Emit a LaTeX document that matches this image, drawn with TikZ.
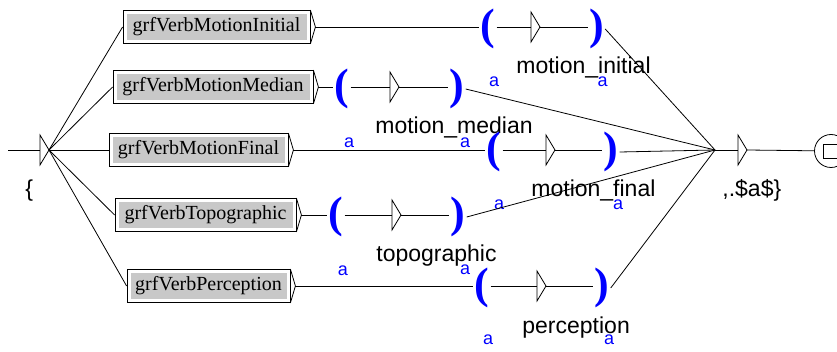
\documentclass[tikz,border=0pt]{standalone}
\usepackage{fontspec}
\setmainfont{Liberation Sans}
\newfontfamily\boxfont{Liberation Serif}
\usetikzlibrary{calc}

\definecolor{boxgray}{RGB}{200,200,200}
\definecolor{outblue}{RGB}{0,0,255}

\tikzset{
	subgraph/.style={draw, fill=white, inner sep=0pt, minimum height=33,
		font=\boxfont\fontsize{20}{20}\selectfont,
		path picture={\fill[boxgray]
			($(path picture bounding box.south west)+(3.5pt,3.5pt)$) rectangle
			($(path picture bounding box.north east)+(-3.5pt,-3.5pt)$);}},
	paren/.style={inner sep=1pt, text=outblue, font=\boxfont\bfseries\fontsize{44}{44}\selectfont},
	lbl/.style={anchor=base west, inner sep=0pt, font=\fontsize{23}{23}\selectfont},
	outa/.style={inner sep=0pt, text=outblue, font=\fontsize{18}{18}\selectfont},
}

% state arrow: name, x, y
\newcommand\statearrow[3]{%
	\draw (#2,#3-15) -- (#2,#3+15) -- (#2+9,#3) -- cycle;
	\coordinate (#1) at (#2,#3);
	\coordinate (#1tip) at (#2+9,#3);}

\begin{document}
\begin{tikzpicture}[x=1pt, y=-1pt, line width=0.8pt]
	\useasboundingbox (0,0) rectangle (837,352);

	% start
	\coordinate (entry) at (8,150);
	\statearrow{start}{40}{150}
	\draw (entry) -- (start);
	\node[lbl] (open) at ($(start)+(-15,47)$) {\{};

	% boxes
	\node[subgraph, minimum width=187] (initial) at (216.5,27) {grfVerbMotionInitial};
	\node[subgraph, minimum width=200] (median) at (213,87) {grfVerbMotionMedian};
	\node[subgraph, minimum width=179] (final) at (198.5,150) {grfVerbMotionFinal};
	\node[subgraph, minimum width=181] (topo) at (205.5,215) {grfVerbTopographic};
	\node[subgraph, minimum width=163] (percep) at (208.5,286) {grfVerbPerception};
	\foreach \b in {initial,median,final,topo,percep}{
		\draw (\b.north east) -- ($(\b.east)+(5,0)$) -- (\b.south east);
		\draw (starttip) -- (\b.west);
	}

	% motion_initial
	\node[paren] (o1) at (488,29) {(};
	\statearrow{t1}{531}{27}
	\node[paren] (c1) at (596.5,29) {)};
	\draw ($(initial.east)+(5,0)$) -- (o1.west |- t1);
	\draw (o1.east |- t1) -- (t1);
	\draw (t1tip) -- (c1.west |- t1);
	\node[lbl] (l1) at ($(t1)+(-15,47)$) {motion\_initial};
	\node[outa] (a1l) at ($(o1)+(6,53)$) {a};
	\node[outa] (a1r) at ($(c1)+(6,53)$) {a};

	% motion_median
	\node[paren] (o2) at (342,89) {(};
	\statearrow{t2}{390}{87}
	\node[paren] (c2) at (457,89) {)};
	\draw ($(median.east)+(5,0)$) -- (o2.west |- t2);
	\draw (o2.east |- t2) -- (t2);
	\draw (t2tip) -- (c2.west |- t2);
	\node[lbl] (l2) at ($(t2)+(-15,47)$) {motion\_median};
	\node[outa] (a2l) at ($(o2)+(7,54)$) {a};
	\node[outa] (a2r) at ($(c2)+(8,54)$) {a};

	% motion_final
	\node[paren] (o3) at (494,152) {(};
	\statearrow{t3}{546}{150}
	\node[paren] (c3) at (611,152) {)};
	\draw ($(final.east)+(5,0)$) -- (o3.west |- t3);
	\draw (o3.east |- t3) -- (t3);
	\draw (t3tip) -- (c3.west |- t3);
	\node[lbl] (l3) at ($(t3)+(-15,47)$) {motion\_final};
	\node[outa] (a3l) at ($(o3)+(5,53)$) {a};
	\node[outa] (a3r) at ($(c3)+(7,53)$) {a};

	% topographic
	\node[paren] (o4) at (336,217) {(};
	\statearrow{t4}{392}{215}
	\node[paren] (c4) at (458,217) {)};
	\draw ($(topo.east)+(5,0)$) -- (o4.west |- t4);
	\draw (o4.east |- t4) -- (t4);
	\draw (t4tip) -- (c4.west |- t4);
	\node[lbl] (l4) at ($(t4)+(-16,47)$) {topographic};
	\node[outa] (a4l) at ($(o4)+(7,54)$) {a};
	\node[outa] (a4r) at ($(c4)+(7,53)$) {a};

	% perception
	\node[paren] (o5) at (482,288) {(};
	\statearrow{t5}{537}{286}
	\node[paren] (c5) at (602,288) {)};
	\draw ($(percep.east)+(5,0)$) -- (o5.west |- t5);
	\draw (o5.east |- t5) -- (t5);
	\draw (t5tip) -- (c5.west |- t5);
	\node[lbl] (l5) at ($(t5)+(-15,47)$) {perception};
	\node[outa] (a5l) at ($(o5)+(6,52)$) {a};
	\node[outa] (a5r) at ($(c5)+(7,52)$) {a};

	% end
	\coordinate (join) at (715,150);
	\foreach \c in {c1,c2,c3,c4,c5}
		\draw (\c.east) -- (join);
	\statearrow{end}{738}{150}
	\draw (join) -- (end);
	\node[lbl] (close) at ($(end)+(-16,47)$) {,.\$a\$\}};
	\node[draw, circle, minimum size=33, inner sep=0pt] (accept) at (831,151) {};
	\node[draw, minimum size=14, inner sep=0pt] (acceptsq) at (830,151) {};
	\draw (endtip) -- (accept);
\end{tikzpicture}
\end{document}
